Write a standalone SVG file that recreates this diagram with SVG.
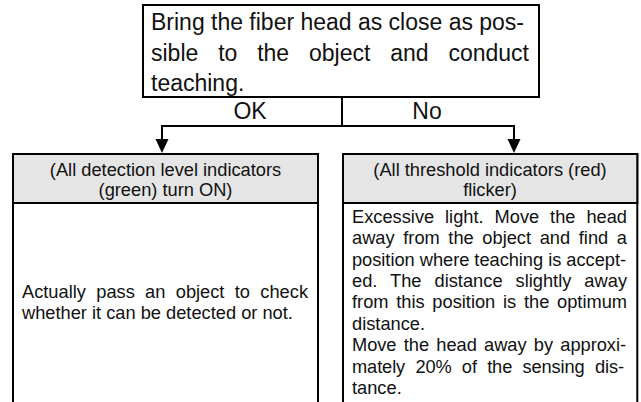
<svg xmlns="http://www.w3.org/2000/svg" width="641" height="402" viewBox="0 0 641 402">
<style>
.box{fill:#fff;stroke:#000;stroke-width:2}
.hdr{fill:#e5e5e5;stroke:#000;stroke-width:2}
.ln{fill:none;stroke:#000;stroke-width:2}
.ah{fill:#000}
text{font-family:"Liberation Sans",Arial,Helvetica,sans-serif;fill:#111}
.big{font-size:23px}
.body{font-size:18.25px}
.c{text-anchor:middle}
</style>
<g id="start">
<rect class="box" x="143" y="5" width="396" height="92"/>
<text class="big" x="151" y="30" textLength="373" lengthAdjust="spacing">Bring the fiber head as close as pos-</text>
<text class="big" x="151" y="60.5" word-spacing="13.5" textLength="378" lengthAdjust="spacing">sible to the object and conduct</text>
<text class="big" x="151" y="91">teaching.</text>
</g>
<g id="connectors">
<path class="ln" d="M342 97 V126 M161 126 H515 M162 126 V140 M514 126 V140"/>
<polygon class="ah" points="155.5,139 168.5,139 162,153"/>
<polygon class="ah" points="507.5,139 520.5,139 514,153"/>
<text class="big c" x="250" y="119">OK</text>
<text class="big c" x="427" y="119">No</text>
</g>
<g id="ok-branch">
<rect class="box" x="13" y="154" width="305" height="260"/>
<rect class="hdr" x="13" y="154" width="305" height="49"/>
<text class="body c" x="165.5" y="176">(All detection level indicators</text>
<text class="body c" x="165.5" y="196">(green) turn ON)</text>
<text class="body" x="22" y="298" word-spacing="5.26" textLength="286" lengthAdjust="spacing">Actually pass an object to check</text>
<text class="body" x="22" y="318.5">whether it can be detected or not.</text>
</g>
<g id="no-branch">
<rect class="box" x="343" y="154" width="294.3" height="260"/>
<rect class="hdr" x="343" y="154" width="294.3" height="49"/>
<text class="body c" x="490" y="176">(All threshold indicators (red)</text>
<text class="body c" x="490" y="196">flicker)</text>
<text class="body" x="352" y="223" word-spacing="5.85" textLength="275" lengthAdjust="spacing">Excessive light. Move the head</text>
<text class="body" x="352" y="244.4" word-spacing="3.57" textLength="275" lengthAdjust="spacing">away from the object and find a</text>
<text class="body" x="352" y="265.7" textLength="274" lengthAdjust="spacing">position where teaching is accept-</text>
<text class="body" x="352" y="287" word-spacing="7.9" textLength="275" lengthAdjust="spacing">ed. The distance slightly away</text>
<text class="body" x="352" y="308.4" word-spacing="2.66" textLength="275" lengthAdjust="spacing">from this position is the optimum</text>
<text class="body" x="352" y="329.8">distance.</text>
<text class="body" x="352" y="351.1" word-spacing="2.26" textLength="274" lengthAdjust="spacing">Move the head away by approxi-</text>
<text class="body" x="352" y="372.5" word-spacing="5.3" textLength="272" lengthAdjust="spacing">mately 20% of the sensing dis-</text>
<text class="body" x="352" y="393.8">tance.</text>
</g>
</svg>
